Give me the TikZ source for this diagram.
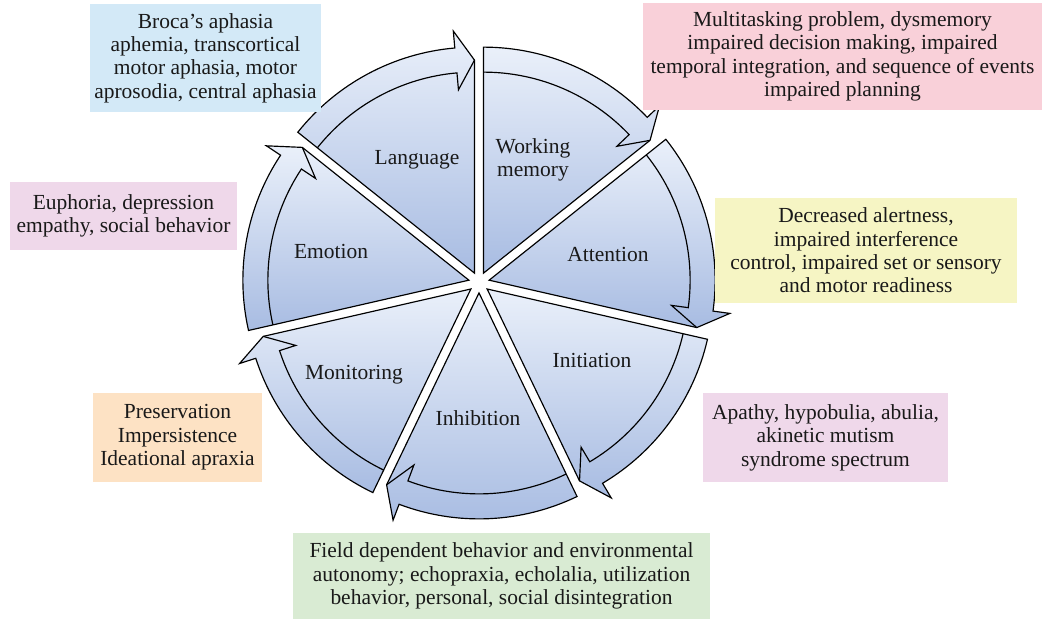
\documentclass[tikz,border=0pt]{standalone}
\usepackage{fontspec}
\setmainfont{Liberation Serif}
\definecolor{lobetop}{HTML}{EAF0FA}
\definecolor{lobebot}{HTML}{A8BCE2}
\definecolor{brocablue}{HTML}{D3E9F7}
\definecolor{multipink}{HTML}{F9D0D9}
\definecolor{euphlilac}{HTML}{EFD8EA}
\definecolor{alertyellow}{HTML}{F6F5C4}
\definecolor{apathylilac}{HTML}{EFD8EA}
\definecolor{preservpeach}{HTML}{FDE2C4}
\definecolor{fieldgreen}{HTML}{D9EBD3}

\begin{document}
\begin{tikzpicture}[x=0.018cm,y=0.018cm,
  lobe/.style={draw=black,line width=0.6pt,line join=miter,top color=lobetop,bottom color=lobebot},
  lobeline/.style={draw=black,line width=0.6pt,line join=miter},
  lobelabel/.style={font=\fontsize{11}{12}\selectfont,text=black!90,align=center},
  symptom/.style={lobelabel,inner sep=0pt}]

\useasboundingbox (0,0) rectangle (1042,619);
\coordinate (hub) at (479,336.5);

% working memory
\begin{scope}[shift={(hub)},shift={(64.29:10.4)}]
\draw[lobe] (0,0) -- (90:226) arc[start angle=90,end angle=43.57,radius=226] -- (43.57:243) -- (38.57:213) -- cycle;
\draw[lobeline] (90:201) arc[start angle=90,end angle=43.57,radius=201] -- (43.57:184) -- (38.57:213);
\end{scope}
% attention
\begin{scope}[shift={(hub)},shift={(12.86:10.4)}]
\draw[lobe] (0,0) -- (38.57:226) arc[start angle=38.57,end angle=-7.86,radius=226] -- (-7.86:243) -- (-12.86:213) -- cycle;
\draw[lobeline] (38.57:201) arc[start angle=38.57,end angle=-7.86,radius=201] -- (-7.86:184) -- (-12.86:213);
\end{scope}
% initiation
\begin{scope}[shift={(hub)},shift={(-38.57:10.4)}]
\draw[lobe] (0,0) -- (-12.86:226) arc[start angle=-12.86,end angle=-59.29,radius=226] -- (-59.29:243) -- (-64.29:213) -- cycle;
\draw[lobeline] (-12.86:201) arc[start angle=-12.86,end angle=-59.29,radius=201] -- (-59.29:184) -- (-64.29:213);
\end{scope}
% inhibition
\begin{scope}[shift={(hub)},shift={(-90:10.4)}]
\draw[lobe] (0,0) -- (-64.29:226) arc[start angle=-64.29,end angle=-110.71,radius=226] -- (-110.71:243) -- (-115.71:213) -- cycle;
\draw[lobeline] (-64.29:201) arc[start angle=-64.29,end angle=-110.71,radius=201] -- (-110.71:184) -- (-115.71:213);
\end{scope}
% monitoring
\begin{scope}[shift={(hub)},shift={(-141.43:10.4)}]
\draw[lobe] (0,0) -- (-115.71:226) arc[start angle=-115.71,end angle=-162.14,radius=226] -- (-162.14:243) -- (-167.14:213) -- cycle;
\draw[lobeline] (-115.71:201) arc[start angle=-115.71,end angle=-162.14,radius=201] -- (-162.14:184) -- (-167.14:213);
\end{scope}
% emotion
\begin{scope}[shift={(hub)},shift={(167.14:10.4)}]
\draw[lobe] (0,0) -- (192.86:226) arc[start angle=192.86,end angle=146.43,radius=226] -- (146.43:243) -- (141.43:213) -- cycle;
\draw[lobeline] (192.86:201) arc[start angle=192.86,end angle=146.43,radius=201] -- (146.43:184) -- (141.43:213);
\end{scope}
% language
\begin{scope}[shift={(hub)},shift={(115.71:10.4)}]
\draw[lobe] (0,0) -- (141.43:226) arc[start angle=141.43,end angle=95,radius=226] -- (95:243) -- (90:213) -- cycle;
\draw[lobeline] (141.43:201) arc[start angle=141.43,end angle=95,radius=201] -- (95:184) -- (90:213);
\end{scope}

\node[lobelabel] (language) at (417,459) {Language};
\node[lobelabel] (wmemory) at (533,459) {Working\\memory};
\node[lobelabel] (attention) at (608,365) {Attention};
\node[lobelabel] (initiation) at (592,259) {Initiation};
\node[lobelabel] (inhibition) at (478,201) {Inhibition};
\node[lobelabel] (monitoring) at (354,244) {Monitoring};
\node[lobelabel] (emotion) at (331,368) {Emotion};

\node[symptom,fill=brocablue,minimum width=4.158cm,minimum height=1.944cm] (broca) at (205.5,561) {Broca’s aphasia\\aphemia, transcortical\\motor aphasia, motor\\aprosodia, central aphasia};
\node[symptom,fill=multipink,minimum width=7.182cm,minimum height=1.926cm] (multitask) at (842.5,562.5) {Multitasking problem, dysmemory\\impaired decision making, impaired\\temporal integration, and sequence of events\\impaired planning};
\node[symptom,fill=euphlilac,minimum width=4.086cm,minimum height=1.224cm] (euphoria) at (123.5,403) {Euphoria, depression\\empathy, social behavior};
\node[symptom,fill=alertyellow,minimum width=5.436cm,minimum height=1.89cm] (alert) at (866,368.5) {Decreased alertness,\\impaired interference\\control, impaired set or sensory\\and motor readiness};
\node[symptom,fill=apathylilac,minimum width=4.41cm,minimum height=1.602cm] (apathy) at (825.5,181.5) {Apathy, hypobulia, abulia,\\akinetic mutism\\syndrome spectrum};
\node[symptom,fill=preservpeach,minimum width=3.042cm,minimum height=1.602cm] (preserv) at (177.5,181.5) {Preservation\\Impersistence\\Ideational apraxia};
\node[symptom,fill=fieldgreen,minimum width=7.506cm,minimum height=1.548cm] (field) at (501.5,43) {Field dependent behavior and environmental\\autonomy; echopraxia, echolalia, utilization\\behavior, personal, social disintegration};
\end{tikzpicture}
\end{document}
